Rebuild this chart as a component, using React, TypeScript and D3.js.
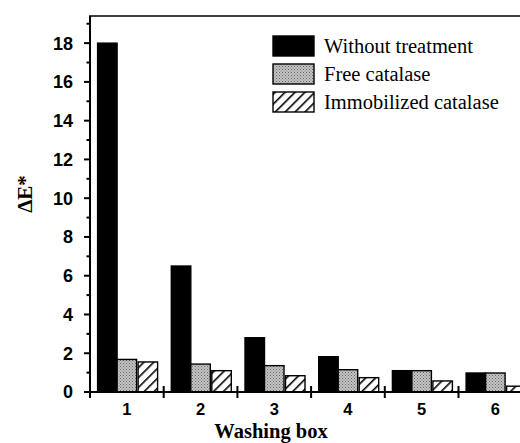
import React, { useEffect, useRef } from "react";
import * as d3 from "d3";

// washing box categories
const boxes = [1, 2, 3, 4, 5, 6];
// ΔE* values
const withoutTreatment = [18.0, 6.5, 2.8, 1.82, 1.1, 0.98];
const freeCatalase = [1.68, 1.44, 1.36, 1.15, 1.1, 0.98];
const immobilizedCatalase = [1.55, 1.1, 0.84, 0.74, 0.57, 0.3];
const seriesNames = ["Without treatment", "Free catalase", "Immobilized catalase"];
const yTicks = [0, 2, 4, 6, 8, 10, 12, 14, 16, 18];
const yMinorTicks = d3.range(1, 20, 2);

export default function App() {
  const ref = useRef<SVGSVGElement>(null);

  useEffect(() => {
    const svg = d3.select(ref.current);
    svg.selectAll("*").remove();

    const W = 520;
    const left = 90, top = 16, bottom = 392;
    const step = 73.7;

    const x = d3.scaleLinear().domain([0.5, 6.5]).range([left, left + 6 * step]);
    const y = d3.scaleLinear().domain([0, 19.4]).range([bottom, top]);
    const bw = 19.5;

    const defs = svg.append("defs");
    const dots = defs.append("pattern").attr("id", "dots")
      .attr("patternUnits", "userSpaceOnUse").attr("width", 3).attr("height", 3);
    dots.append("rect").attr("width", 3).attr("height", 3).attr("fill", "#c4c4c4");
    dots.append("rect").attr("x", 0).attr("y", 0).attr("width", 1).attr("height", 1).attr("fill", "#666");
    dots.append("rect").attr("x", 1.5).attr("y", 1.5).attr("width", 1).attr("height", 1).attr("fill", "#777");

    const hatch = defs.append("pattern").attr("id", "hatch")
      .attr("patternUnits", "userSpaceOnUse").attr("width", 7).attr("height", 7)
      .attr("patternTransform", "rotate(45)");
    hatch.append("rect").attr("width", 7).attr("height", 7).attr("fill", "#fff");
    hatch.append("line").attr("x1", 0).attr("y1", 0).attr("x2", 0).attr("y2", 7)
      .attr("stroke", "#000").attr("stroke-width", 3.2);

    const fills = ["#000", "url(#dots)", "url(#hatch)"];
    const series = [withoutTreatment, freeCatalase, immobilizedCatalase];
    const offsets = [-1.5 * bw, -0.5 * bw, 0.5 * bw + 1.5];

    const g = svg.append("g");
    series.forEach((vals, si) => {
      g.selectAll(".bar" + si).data(boxes).join("rect")
        .attr("x", (d) => x(d) + offsets[si])
        .attr("width", bw)
        .attr("y", (d, i) => y(vals[i]))
        .attr("height", (d, i) => bottom - y(vals[i]))
        .attr("fill", fills[si])
        .attr("stroke", "#000").attr("stroke-width", 1.4);
    });

    // frame: left axis, bottom axis, top border
    const ax = svg.append("g").attr("stroke", "#000").attr("stroke-width", 2);
    ax.append("line").attr("x1", left).attr("x2", left).attr("y1", top).attr("y2", bottom + 1);
    ax.append("line").attr("x1", left - 1).attr("x2", W).attr("y1", bottom).attr("y2", bottom);
    ax.append("line").attr("x1", left - 1).attr("x2", W).attr("y1", top).attr("y2", top).attr("stroke-width", 1.6);

    // y ticks
    ax.selectAll(".ymaj").data(yTicks).join("line")
      .attr("x1", left - 6).attr("x2", left).attr("y1", (d) => y(d)).attr("y2", (d) => y(d));
    ax.selectAll(".ymin").data(yMinorTicks).join("line")
      .attr("x1", left - 3.5).attr("x2", left).attr("y1", (d) => y(d)).attr("y2", (d) => y(d));

    svg.selectAll(".ylab").data(yTicks).join("text")
      .attr("x", 73).attr("y", (d) => y(d)).attr("dy", "0.36em")
      .attr("text-anchor", "end")
      .attr("font-family", "Liberation Sans, Arial, sans-serif")
      .attr("font-size", 18).attr("font-weight", "bold")
      .text((d) => d);

    // x ticks between groups
    const xTicks = [0.5, 1.5, 2.5, 3.5, 4.5, 5.5];
    ax.selectAll(".xmaj").data(xTicks).join("line")
      .attr("x1", (d) => x(d)).attr("x2", (d) => x(d))
      .attr("y1", (d) => (d === 0.5 ? bottom : bottom - 6)).attr("y2", bottom + 6);

    svg.selectAll(".xlab").data(boxes).join("text")
      .attr("x", (d) => x(d)).attr("y", 415)
      .attr("text-anchor", "middle")
      .attr("font-family", "Liberation Sans, Arial, sans-serif")
      .attr("font-size", 16.5).attr("font-weight", "bold")
      .text((d) => d);

    svg.append("text")
      .attr("x", 271).attr("y", 438)
      .attr("text-anchor", "middle")
      .attr("font-family", "Liberation Serif, Times New Roman, serif")
      .attr("font-size", 20.5).attr("font-weight", "bold")
      .text("Washing box");

    svg.append("text")
      .attr("transform", "translate(32,194) rotate(-90)")
      .attr("text-anchor", "middle")
      .attr("font-family", "Liberation Serif, Times New Roman, serif")
      .attr("font-size", 21).attr("font-weight", "bold")
      .text("ΔE*");

    // legend
    const lg = svg.append("g");
    seriesNames.forEach((name, i) => {
      const ty = 36 + i * 28;
      lg.append("rect").attr("x", 273).attr("y", ty).attr("width", 41).attr("height", 20)
        .attr("fill", fills[i]).attr("stroke", "#000").attr("stroke-width", 1.4);
      lg.append("text").attr("x", 324).attr("y", ty + 17)
        .attr("font-family", "Liberation Serif, Times New Roman, serif")
        .attr("font-size", 20.5)
        .text(name);
    });
  }, []);

  return (
    <svg ref={ref} width={520} height={443}
      style={{ position: "absolute", left: 0, top: 0, background: "#fff" }} />
  );
}
